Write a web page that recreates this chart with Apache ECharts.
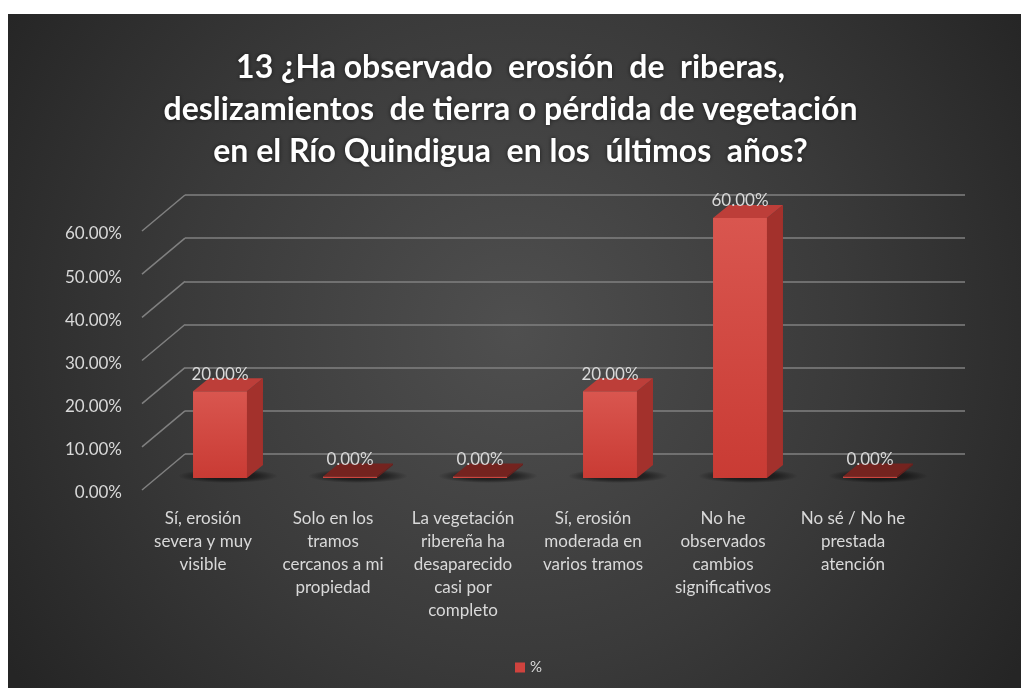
<!DOCTYPE html>
<html>
<head>
<meta charset="utf-8">
<title>Erosión de riberas - Río Quindigua</title>
<script src="https://cdn.jsdelivr.net/npm/echarts@6/dist/echarts.min.js"></script>
<style>
  html, body { margin: 0; padding: 0; background: #ffffff; }
  #chart { width: 1021px; height: 688px; }
</style>
</head>
<body>
<div id="chart"></div>
<script>
// Survey question 13: observed bank erosion / landslides / vegetation loss
const titleText = '13 ¿Ha observado  erosión  de  riberas,\ndeslizamientos  de tierra o pérdida de vegetación\nen el Río Quindigua  en los  últimos  años?';
const seriesName = '%';
const categories = [
  'Sí, erosión\nsevera y muy\nvisible',
  'Solo en los\ntramos\ncercanos a mi\npropiedad',
  'La vegetación\nribereña ha\ndesaparecido\ncasi por\ncompleto',
  'Sí, erosión\nmoderada en\nvarios tramos',
  'No he\nobservados\ncambios\nsignificativos',
  'No sé / No he\nprestada\natención'
];
const values = [0.20, 0.00, 0.00, 0.20, 0.60, 0.00];
const yTicks = [0, 0.1, 0.2, 0.3, 0.4, 0.5, 0.6];

const labelColor = '#d9d9d9';
const gridColor = '#808080';
const fontFamily = 'Lato, "Liberation Sans", sans-serif';
const pct = v => (v * 100).toFixed(2) + '%';

// depth offsets of the 3D look (pixels)
const BAR_DX = 16, BAR_DY = -13;
const WALL_DX = -43, WALL_DY = 36;

const chart = echarts.init(document.getElementById('chart'), null, { renderer: 'canvas' });

function renderBar(params, api) {
  const idx = api.value(0);
  const v = api.value(1);
  const base = api.coord([idx, 0]);
  const top = api.coord([idx, v]);
  const band = api.size([1, 0])[0];
  const w = band * 0.415;
  const x0 = base[0] - w / 2;
  const x1 = base[0] + w / 2;
  const yb = base[1];
  const yt = Math.min(top[1], yb - 1.5);
  const flat = v === 0;
  const sx = base[0] + 8, sy = yb - 2, sr = 50;
  const children = [
    {
      // soft floor shadow
      type: 'circle',
      shape: { cx: sx, cy: sy, r: sr },
      scaleY: 0.14,
      originX: sx,
      originY: sy,
      style: {
        fill: new echarts.graphic.RadialGradient(0.5, 0.5, 0.5, [
          { offset: 0, color: 'rgba(0,0,0,0.75)' },
          { offset: 0.6, color: 'rgba(0,0,0,0.45)' },
          { offset: 1, color: 'rgba(0,0,0,0)' }
        ])
      },
      silent: true
    },
    {
      type: 'rect',
      shape: { x: x0, y: yt, width: w, height: yb - yt },
      style: {
        fill: new echarts.graphic.LinearGradient(0, 0, 0, 1, [
          { offset: 0, color: '#d9564f' },
          { offset: 1, color: '#c93b34' }
        ])
      }
    },
    {
      type: 'polygon',
      shape: { points: [[x1, yt], [x1 + BAR_DX, yt + BAR_DY], [x1 + BAR_DX, yb + BAR_DY], [x1, yb]] },
      style: { fill: flat ? '#6a1f1c' : '#a3312c' }
    },
    {
      type: 'polygon',
      shape: { points: [[x0, yt], [x1, yt], [x1 + BAR_DX, yt + BAR_DY], [x0 + BAR_DX, yt + BAR_DY]] },
      style: { fill: flat ? '#74231f' : '#bd3e39' }
    },
    {
      type: 'text',
      style: {
        x: base[0], y: yt - 17,
        text: pct(v),
        fill: labelColor,
        font: '17px ' + fontFamily,
        align: 'center',
        verticalAlign: 'middle'
      },
      silent: true
    }
  ];
  return { type: 'group', children };
}

function renderWallEdge(params, api) {
  const p = api.coord([0, api.value(1)]);
  return {
    type: 'line',
    shape: { x1: p[0], y1: p[1], x2: p[0] + WALL_DX, y2: p[1] + WALL_DY },
    style: { stroke: gridColor, lineWidth: 1.5 },
    silent: true
  };
}

const option = {
  backgroundColor: '#ffffff',
  animation: false,
  graphic: [{
    type: 'rect',
    z: -10,
    silent: true,
    shape: { x: 8, y: 14, width: 1013, height: 674 },
    style: {
      fill: new echarts.graphic.RadialGradient(0.5, 0.47, 0.9, [
        { offset: 0, color: '#4f4f4f' },
        { offset: 0.55, color: '#3a3a3a' },
        { offset: 1, color: '#252525' }
      ])
    }
  }],
  title: {
    text: titleText,
    left: 'center',
    top: 42,
    textStyle: {
      color: '#ffffff',
      fontFamily: fontFamily,
      fontWeight: 'bold',
      fontSize: 32,
      lineHeight: 42,
      textShadowColor: 'rgba(0,0,0,0.6)',
      textShadowBlur: 4
    }
  },
  legend: {
    data: [seriesName],
    left: 510,
    top: 655,
    icon: 'rect',
    itemWidth: 10,
    itemHeight: 10,
    itemGap: 4,
    textStyle: { color: labelColor, fontFamily: fontFamily, fontSize: 15 }
  },
  grid: [
    // bar front plane
    { left: 155, right: 86, top: 218, bottom: 210 },
    // back wall
    { left: 185, right: 56, top: 195, bottom: 234 },
    // value labels
    { left: 130, right: 86, top: 234, bottom: 195 },
    // category labels
    { left: 138, right: 103, top: 218, bottom: 188 }
  ],
  xAxis: [
    { gridIndex: 0, type: 'category', data: categories, show: false },
    { gridIndex: 1, type: 'value', min: 0, max: 1, show: false },
    { gridIndex: 2, type: 'category', data: categories, show: false },
    {
      gridIndex: 3, type: 'category', data: categories,
      axisLine: { show: false }, axisTick: { show: false }, splitLine: { show: false },
      axisLabel: {
        interval: 0, margin: 7,
        color: labelColor, fontFamily: fontFamily, fontSize: 17, lineHeight: 23, align: 'center'
      }
    }
  ],
  yAxis: [
    { gridIndex: 0, type: 'value', min: 0, max: 0.6, interval: 0.1, show: false },
    {
      gridIndex: 1, type: 'value', min: 0, max: 0.6, interval: 0.1,
      axisLine: { show: false }, axisTick: { show: false }, axisLabel: { show: false },
      splitLine: { show: true, lineStyle: { color: gridColor, width: 1.5 } }
    },
    {
      gridIndex: 2, type: 'value', min: 0, max: 0.6, interval: 0.1,
      axisLine: { show: false }, axisTick: { show: false }, splitLine: { show: false },
      axisLabel: { color: labelColor, fontFamily: fontFamily, fontSize: 17, margin: 8, formatter: pct }
    },
    { gridIndex: 3, type: 'value', min: 0, max: 0.6, show: false }
  ],
  series: [
    {
      name: 'wall-edge',
      type: 'custom',
      xAxisIndex: 1,
      yAxisIndex: 1,
      z: 1,
      renderItem: renderWallEdge,
      data: yTicks.map(v => [0, v]),
      encode: { x: 0, y: 1 }
    },
    {
      name: seriesName,
      type: 'custom',
      xAxisIndex: 0,
      yAxisIndex: 0,
      z: 3,
      itemStyle: { color: '#d0433e' },
      renderItem: renderBar,
      data: values.map((v, i) => [i, v]),
      encode: { x: 0, y: 1 }
    }
  ]
};

chart.setOption(option);
</script>
</body>
</html>
